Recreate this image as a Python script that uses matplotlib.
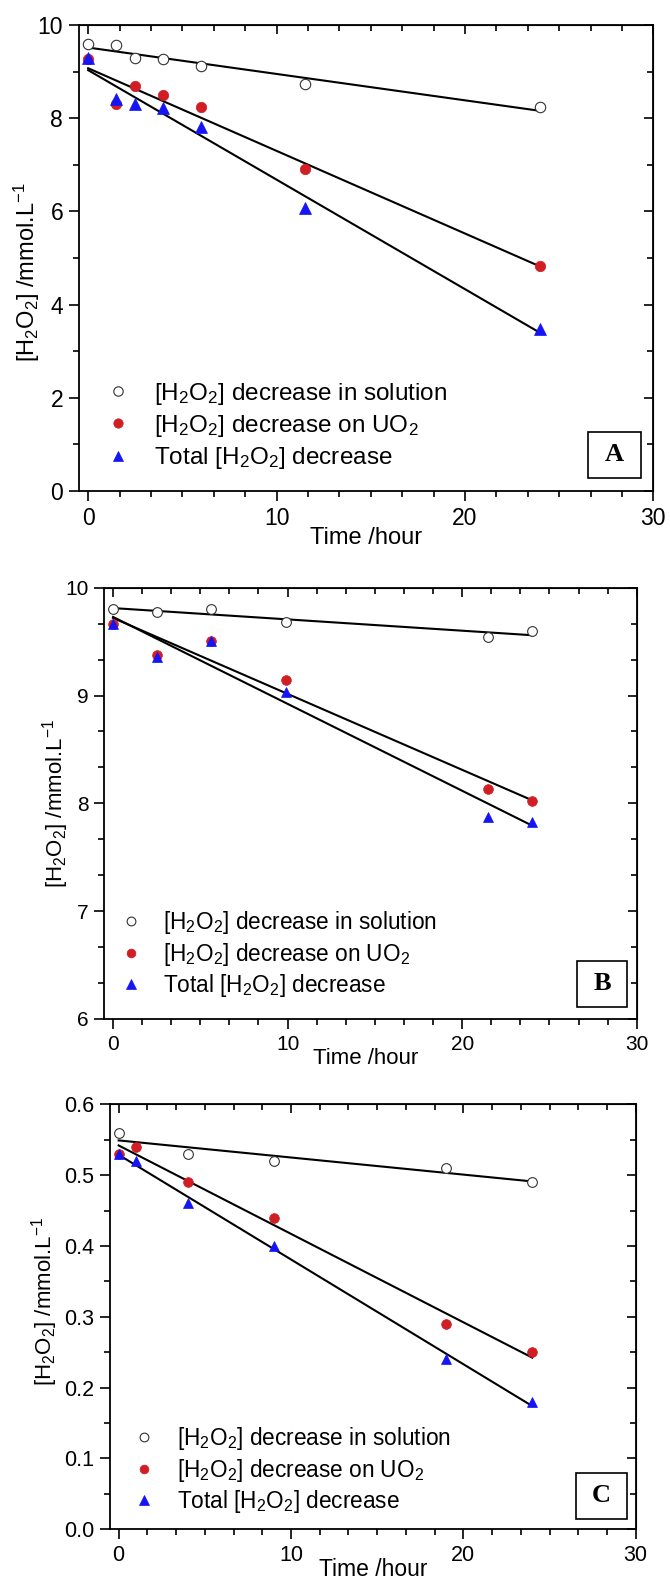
import matplotlib
matplotlib.use('Agg')
import matplotlib.pyplot as plt
import numpy as np
from matplotlib.ticker import MultipleLocator, AutoMinorLocator, FormatStrFormatter
from matplotlib.patches import Rectangle

plt.rcParams['font.family'] = ['Liberation Sans', 'DejaVu Sans']
plt.rcParams['mathtext.fontset'] = 'custom'
plt.rcParams['mathtext.rm'] = 'Liberation Sans'
plt.rcParams['mathtext.it'] = 'Liberation Sans:italic'
plt.rcParams['mathtext.bf'] = 'Liberation Sans:bold'
plt.rcParams['mathtext.default'] = 'regular'

# ---------------- data ----------------
# Panel A
a_time = [0, 1.5, 2.5, 4, 6, 11.5, 24]
a_sol = [9.59, 9.57, 9.30, 9.26, 9.12, 8.73, 8.24]
a_uo2 = [9.26, 8.31, 8.69, 8.50, 8.24, 6.91, 4.82]
a_total = [9.29, 8.42, 8.31, 8.21, 7.81, 6.07, 3.48]

# Panel B
b_time = [0, 2.5, 5.6, 9.9, 21.5, 24]
b_sol = [9.80, 9.775, 9.805, 9.68, 9.54, 9.60]
b_uo2 = [9.66, 9.38, 9.51, 9.145, 8.13, 8.02]
b_total = [9.66, 9.355, 9.51, 9.03, 7.87, 7.83]

# Panel C
c_time_sol = [0, 4, 9, 19, 24]
c_sol = [0.56, 0.53, 0.52, 0.51, 0.49]
c_time = [0, 1, 4, 9, 19, 24]
c_uo2 = [0.53, 0.54, 0.49, 0.44, 0.29, 0.25]
c_total = [0.53, 0.52, 0.46, 0.40, 0.24, 0.18]

labels = [r'[H$_2$O$_2$] decrease in solution',
          r'[H$_2$O$_2$] decrease on UO$_2$',
          r'Total [H$_2$O$_2$] decrease']
xlabel = 'Time /hour'
ylabel = r'[H$_2$O$_2$] /mmol.L$^{-1}$'

RED = '#D01E24'
BLUE = '#1414F5'

W, H = 670, 1580
fig = plt.figure(figsize=(W / 100, H / 100), dpi=100)


def add_axes_px(left, top, right, bottom):
    return fig.add_axes([left / W, 1 - bottom / H, (right - left) / W, (bottom - top) / H])


def fit_line(ax, x, y):
    x = np.asarray(x, float)
    y = np.asarray(y, float)
    k, b = np.polyfit(x, y, 1)
    xs = np.array([x.min(), x.max()])
    ax.plot(xs, k * xs + b, color='black', lw=1.5, zorder=2)


def style_axes(ax, ylim, ymajor, yminor_n, fs_tick):
    ax.set_xlim(-0.5, 30)
    ax.set_ylim(*ylim)
    ax.xaxis.set_major_locator(MultipleLocator(10))
    ax.xaxis.set_minor_locator(AutoMinorLocator(6))
    ax.yaxis.set_major_locator(MultipleLocator(ymajor))
    ax.yaxis.set_minor_locator(AutoMinorLocator(yminor_n))
    ax.tick_params(which='both', direction='out', width=1.2, labelsize=fs_tick, pad=4)
    ax.tick_params(which='major', length=7.2)
    ax.tick_params(which='minor', length=4.0)
    for s in ax.spines.values():
        s.set_linewidth(1.3)
    top = ax.secondary_xaxis('top')
    top.xaxis.set_major_locator(MultipleLocator(10))
    top.xaxis.set_minor_locator(AutoMinorLocator(6))
    top.tick_params(which='both', direction='in', width=1.2, labeltop=False)
    top.tick_params(which='major', length=6.5)
    top.tick_params(which='minor', length=4.0)
    right = ax.secondary_yaxis('right')
    right.yaxis.set_major_locator(MultipleLocator(ymajor))
    right.yaxis.set_minor_locator(AutoMinorLocator(yminor_n))
    right.tick_params(which='both', direction='in', width=1.2, labelright=False)
    right.tick_params(which='major', length=6.5)
    right.tick_params(which='minor', length=4.0)


def panel_box(ax, letter, right_off, bottom_off, wpx, hpx, fs):
    pos = ax.get_position()
    aw = pos.width * W
    ah = pos.height * H
    x0 = 1 - (right_off + wpx) / aw
    y0 = bottom_off / ah
    w = wpx / aw
    h = hpx / ah
    ax.add_patch(Rectangle((x0, y0), w, h, transform=ax.transAxes, fill=False,
                           ec='black', lw=1.2, zorder=5))
    ax.text(x0 + w / 2, y0 + h / 2, letter, transform=ax.transAxes, ha='center',
            va='center', fontfamily='Liberation Serif', fontweight='bold',
            fontsize=fs, zorder=6)


def draw(ax, t_sol, sol, t, uo2, total, ms):
    ax.plot(t_sol, sol, linestyle='none', marker='o', ms=ms, mfc='white',
            mec='#333333', mew=0.8, label=labels[0], zorder=3)
    ax.plot(t, uo2, linestyle='none', marker='o', ms=ms, mfc=RED, mec=RED,
            mew=0.5, label=labels[1], zorder=3)
    ax.plot(t, total, linestyle='none', marker='^', ms=ms + 0.5, mfc=BLUE, mec=BLUE,
            mew=0.5, label=labels[2], zorder=4)
    fit_line(ax, t_sol, sol)
    fit_line(ax, t, uo2)
    fit_line(ax, t, total)


def legend(ax, left_px, center_px, fs, spacing, textpad):
    pos = ax.get_position()
    aw = pos.width * W
    ah = pos.height * H
    x = left_px / aw
    y = center_px / ah
    ax.legend(loc='center left', bbox_to_anchor=(x, y), frameon=False,
              fontsize=fs, handlelength=1.0, handletextpad=textpad,
              labelspacing=spacing, borderpad=0, borderaxespad=0, markerscale=0.9)


# ---------------- Panel A ----------------
axA = add_axes_px(78.7, 25, 653.3, 491)
draw(axA, a_time, a_sol, a_time, a_uo2, a_total, 7.5)
style_axes(axA, (0, 10), 2, 2, 16.5)
axA.set_xlabel(xlabel, fontsize=17)
axA.set_ylabel(ylabel, fontsize=17)
axA.xaxis.set_label_coords(0.5, -0.078)
axA.yaxis.set_label_coords(-0.064, 0.47)
legend(axA, 27.5, 65, 17.5, 0.25, 0.95)
panel_box(axA, 'A', 12.6, 13.3, 53, 46, 19)

# ---------------- Panel B ----------------
axB = add_axes_px(104.3, 587.7, 636.7, 1019)
draw(axB, b_time, b_sol, b_time, b_uo2, b_total, 7)
style_axes(axB, (6, 10), 1, 3, 15)
axB.set_xlabel(xlabel, fontsize=16)
axB.set_ylabel(ylabel, fontsize=16)
axB.xaxis.set_label_coords(0.49, -0.068)
axB.yaxis.set_label_coords(-0.0625, 0.5)
legend(axB, 15, 65, 16.3, 0.2, 0.95)
panel_box(axB, 'B', 9.4, 12.3, 50.6, 45.7, 19)

# ---------------- Panel C ----------------
axC = add_axes_px(110, 1104.3, 635.7, 1529.3)
draw(axC, c_time_sol, c_sol, c_time, c_uo2, c_total, 7)
style_axes(axC, (0, 0.6), 0.1, 2, 15.5)
axC.yaxis.set_major_formatter(FormatStrFormatter('%.1f'))
axC.set_xlabel(xlabel, fontsize=16.5)
axC.set_ylabel(ylabel, fontsize=16)
axC.xaxis.set_label_coords(0.5, -0.068)
axC.yaxis.set_label_coords(-0.095, 0.535)
legend(axC, 23, 59, 16.3, 0.2, 0.95)
panel_box(axC, 'C', 9, 10.6, 50.7, 46, 19)

fig.savefig('out.png', dpi=100)
